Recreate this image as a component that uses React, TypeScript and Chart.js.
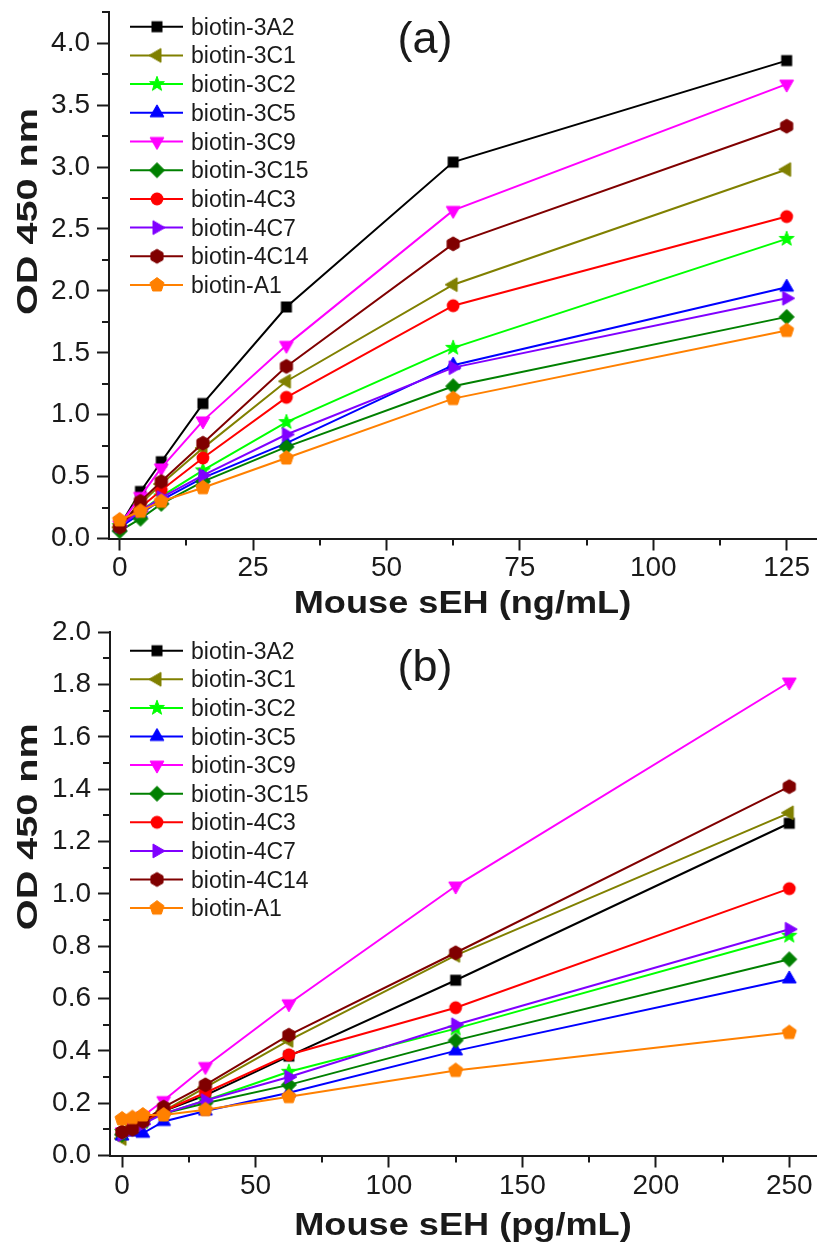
import React, { useEffect, useRef } from 'react';
import { Chart, registerables } from 'chart.js';

Chart.register(...registerables);

// ---------- series ----------
const seriesNames = ['biotin-3A2', 'biotin-3C1', 'biotin-3C2', 'biotin-3C5', 'biotin-3C9', 'biotin-3C15', 'biotin-4C3', 'biotin-4C7', 'biotin-4C14', 'biotin-A1'];
const seriesColors = ['#000000', '#808000', '#00FF00', '#0000FF', '#FF00FF', '#008000', '#FF0000', '#8000FF', '#800000', '#FF8000'];
const seriesMarkers = ['square', 'triangleLeft', 'star', 'triangleUp', 'triangleDown', 'diamond', 'circle', 'triangleRight', 'hexagon', 'pentagon'];

// ---------- panel (a): ng/mL ----------
const concA = [0, 3.9, 7.8, 15.6, 31.25, 62.5, 125];
const a3A2 = [0.10, 0.38, 0.62, 1.09, 1.87, 3.04, 3.86];
const a3C1 = [0.09, 0.28, 0.44, 0.73, 1.27, 2.05, 2.98];
const a3C2 = [0.10, 0.22, 0.34, 0.55, 0.94, 1.54, 2.42];
const a3C5 = [0.09, 0.20, 0.31, 0.49, 0.77, 1.40, 2.03];
const a3C9 = [0.11, 0.34, 0.57, 0.95, 1.56, 2.65, 3.67];
const a3C15 = [0.06, 0.16, 0.28, 0.46, 0.74, 1.23, 1.79];
const a4C3 = [0.10, 0.25, 0.39, 0.65, 1.14, 1.88, 2.60];
const a4C7 = [0.10, 0.22, 0.33, 0.51, 0.84, 1.38, 1.94];
const a4C14 = [0.09, 0.30, 0.46, 0.77, 1.39, 2.38, 3.33];
const aA1 = [0.15, 0.22, 0.30, 0.41, 0.65, 1.13, 1.68];
const xTicksA = [0, 25, 50, 75, 100, 125];
const xMinorA = [12.5, 37.5, 62.5, 87.5, 112.5];
const yTicksA = [0, 0.5, 1.0, 1.5, 2.0, 2.5, 3.0, 3.5, 4.0];
const yMinorA = [0.25, 0.75, 1.25, 1.75, 2.25, 2.75, 3.25, 3.75, 4.25];

// ---------- panel (b): pg/mL ----------
const concB = [0, 3.9, 7.8, 15.6, 31.25, 62.5, 125, 250];
const b3A2 = [0.08, 0.10, 0.13, 0.17, 0.23, 0.38, 0.67, 1.27];
const b3C1 = [0.065, 0.10, 0.13, 0.17, 0.26, 0.44, 0.765, 1.31];
const b3C2 = [0.09, 0.11, 0.13, 0.16, 0.21, 0.32, 0.485, 0.84];
const b3C5 = [0.075, 0.09, 0.085, 0.13, 0.17, 0.24, 0.40, 0.675];
const b3C9 = [0.09, 0.12, 0.15, 0.21, 0.34, 0.58, 1.03, 1.81];
const b3C15 = [0.08, 0.11, 0.13, 0.16, 0.20, 0.27, 0.44, 0.75];
const b4C3 = [0.09, 0.11, 0.13, 0.17, 0.24, 0.385, 0.565, 1.02];
const b4C7 = [0.08, 0.10, 0.12, 0.16, 0.21, 0.30, 0.50, 0.865];
const b4C14 = [0.09, 0.10, 0.13, 0.185, 0.27, 0.46, 0.775, 1.41];
const bA1 = [0.14, 0.145, 0.155, 0.155, 0.175, 0.225, 0.325, 0.47];
const xTicksB = [0, 50, 100, 150, 200, 250];
const xMinorB = [25, 75, 125, 175, 225];
const yTicksB = [0, 0.2, 0.4, 0.6, 0.8, 1.0, 1.2, 1.4, 1.6, 1.8, 2.0];
const yMinorB = [0.1, 0.3, 0.5, 0.7, 0.9, 1.1, 1.3, 1.5, 1.7, 1.9];

const valuesA = [a3A2, a3C1, a3C2, a3C5, a3C9, a3C15, a4C3, a4C7, a4C14, aA1];
const valuesB = [b3A2, b3C1, b3C2, b3C5, b3C9, b3C15, b4C3, b4C7, b4C14, bA1];

const FONT = "'Liberation Sans', Arial, Helvetica, sans-serif";
const INK = '#1a1a1a';

function makeMarker(shape: string, color: string): HTMLCanvasElement {
  const c = document.createElement('canvas');
  c.width = 20;
  c.height = 20;
  const g = c.getContext('2d') as CanvasRenderingContext2D;
  g.fillStyle = color;
  g.strokeStyle = color;
  g.lineWidth = 1;
  const cx = 10, cy = 10;
  const poly = (pts: number[][]) => {
    g.beginPath();
    pts.forEach(([x, y], k) => (k ? g.lineTo(x, y) : g.moveTo(x, y)));
    g.closePath();
    g.fill();
    g.stroke();
  };
  const reg = (n: number, r: number, rot: number) =>
    poly(Array.from({ length: n }, (_, k) => [cx + r * Math.cos(rot + (k * 2 * Math.PI) / n), cy + r * Math.sin(rot + (k * 2 * Math.PI) / n)]));
  switch (shape) {
    case 'square':
      g.fillRect(cx - 5.5, cy - 5.5, 11, 11);
      break;
    case 'circle':
      g.beginPath();
      g.arc(cx, cy, 6.4, 0, Math.PI * 2);
      g.fill();
      break;
    case 'triangleUp':
      reg(3, 8, -Math.PI / 2);
      break;
    case 'triangleDown':
      reg(3, 8, Math.PI / 2);
      break;
    case 'triangleLeft':
      reg(3, 8, Math.PI);
      break;
    case 'triangleRight':
      reg(3, 8, 0);
      break;
    case 'diamond':
      reg(4, 7.5, -Math.PI / 2);
      break;
    case 'hexagon':
      reg(6, 7, -Math.PI / 2);
      break;
    case 'pentagon':
      reg(5, 7.4, -Math.PI / 2);
      break;
    case 'star': {
      const pts: number[][] = [];
      for (let k = 0; k < 10; k++) {
        const r = k % 2 === 0 ? 7.8 : 3.2;
        const a = -Math.PI / 2 + (k * Math.PI) / 5;
        pts.push([cx + r * Math.cos(a), cy + r * Math.sin(a)]);
      }
      poly(pts);
      break;
    }
  }
  return c;
}

type Spec = {
  height: number;
  conc: number[];
  values: number[][];
  xMin: number; xMax: number; yMin: number; yMax: number;
  xTicks: number[]; xMinor: number[]; yTicks: number[]; yMinor: number[];
  top: number; yAxisWidth: number; xAxisHeight: number; xTickPadding: number;
  legendTop: number; legendStep: number;
  label: string; labelX: number; labelBaseline: number;
  xTitle: string; xTitleBaseline: number;
  yTitleCenterY: number;
};

const specA: Spec = {
  height: 620, conc: concA, values: valuesA,
  xMin: -2, xMax: 130.5, yMin: 0, yMax: 4.25,
  xTicks: xTicksA, xMinor: xMinorA, yTicks: yTicksA, yMinor: yMinorA,
  top: 12.3, yAxisWidth: 109, xAxisHeight: 81.5, xTickPadding: 1,
  legendTop: 26.7, legendStep: 28.7,
  label: '(a)', labelX: 425, labelBaseline: 52.7,
  xTitle: 'Mouse sEH (ng/mL)', xTitleBaseline: 613,
  yTitleCenterY: 211.5,
};

const specB: Spec = {
  height: 623, conc: concB, values: valuesB,
  xMin: -4.5, xMax: 260, yMin: 0, yMax: 2.0,
  xTicks: xTicksB, xMinor: xMinorB, yTicks: yTicksB, yMinor: yMinorB,
  top: 12.3, yAxisWidth: 110, xAxisHeight: 87.5, xTickPadding: 2,
  legendTop: 30.7, legendStep: 28.6,
  label: '(b)', labelX: 425, labelBaseline: 61.2,
  xTitle: 'Mouse sEH (pg/mL)', xTitleBaseline: 615,
  yTitleCenterY: 206.7,
};

function decorPlugin(spec: Spec, markers: HTMLCanvasElement[]) {
  return {
    id: 'decor',
    afterDraw(chart: any) {
      const ctx: CanvasRenderingContext2D = chart.ctx;
      const xs = chart.scales.x;
      const ys = chart.scales.y;
      const area = chart.chartArea;
      ctx.save();
      // minor ticks
      ctx.strokeStyle = INK;
      ctx.lineWidth = 2;
      spec.xMinor.forEach((v) => {
        const px = Math.round(xs.getPixelForValue(v));
        ctx.beginPath();
        ctx.moveTo(px, area.bottom);
        ctx.lineTo(px, area.bottom + 7);
        ctx.stroke();
      });
      spec.yMinor.forEach((v) => {
        const py = Math.round(ys.getPixelForValue(v));
        ctx.beginPath();
        ctx.moveTo(area.left, py);
        ctx.lineTo(area.left - 7, py);
        ctx.stroke();
      });
      // legend
      chart.data.datasets.forEach((ds: any, i: number) => {
        const y = spec.legendTop + i * spec.legendStep;
        ctx.strokeStyle = ds.borderColor;
        ctx.lineWidth = 2;
        ctx.beginPath();
        ctx.moveTo(130, y);
        ctx.lineTo(183, y);
        ctx.stroke();
        const m = markers[i];
        ctx.drawImage(m, 157 - m.width / 2, y - m.height / 2);
        ctx.fillStyle = INK;
        ctx.font = `23px ${FONT}`;
        ctx.textAlign = 'left';
        ctx.textBaseline = 'alphabetic';
        ctx.fillText(ds.label, 191, y + 8);
      });
      // panel label
      ctx.fillStyle = INK;
      ctx.font = `45px ${FONT}`;
      ctx.textAlign = 'center';
      ctx.textBaseline = 'alphabetic';
      ctx.fillText(spec.label, spec.labelX, spec.labelBaseline);
      // x title
      ctx.save();
      ctx.translate((area.left + area.right) / 2, spec.xTitleBaseline);
      ctx.scale(1.13, 1);
      ctx.font = `bold 32px ${FONT}`;
      ctx.fillText(spec.xTitle, 0, 0);
      ctx.restore();
      // y title
      ctx.save();
      ctx.translate(37, spec.yTitleCenterY);
      ctx.rotate(-Math.PI / 2);
      ctx.scale(1.32, 1);
      ctx.font = `bold 30px ${FONT}`;
      ctx.textAlign = 'center';
      ctx.fillText('OD 450 nm', 0, 0);
      ctx.restore();
      ctx.restore();
    },
  };
}

function buildConfig(spec: Spec, markers: HTMLCanvasElement[]): any {
  return {
    type: 'line',
    data: {
      datasets: seriesNames.map((name, i) => ({
        label: name,
        data: spec.conc.map((x, j) => ({ x, y: spec.values[i][j] })),
        borderColor: seriesColors[i],
        backgroundColor: seriesColors[i],
        borderWidth: 2,
        pointStyle: markers[i],
        pointRadius: 7,
        pointHoverRadius: 7,
        tension: 0,
        fill: false,
        clip: false,
        order: seriesNames.length - i,
      })),
    },
    options: {
      animation: false,
      responsive: false,
      maintainAspectRatio: false,
      devicePixelRatio: 1,
      events: [],
      layout: { padding: { top: spec.top, left: 0, right: 0, bottom: 0 } },
      plugins: { legend: { display: false }, tooltip: { enabled: false }, title: { display: false } },
      scales: {
        x: {
          type: 'linear',
          min: spec.xMin,
          max: spec.xMax,
          afterBuildTicks: (s: any) => {
            s.ticks = spec.xTicks.map((v) => ({ value: v }));
          },
          afterFit: (s: any) => {
            s.height = spec.xAxisHeight;
            s.paddingLeft = 0;
            s.paddingRight = 0;
          },
          grid: { drawOnChartArea: false, drawTicks: true, tickLength: 12, tickWidth: 2, tickColor: INK },
          border: { display: true, color: INK, width: 2 },
          ticks: {
            font: { family: FONT, size: 28 },
            color: INK,
            padding: spec.xTickPadding,
            maxRotation: 0,
            autoSkip: false,
            callback: (v: any) => String(v),
          },
        },
        y: {
          type: 'linear',
          min: spec.yMin,
          max: spec.yMax,
          afterBuildTicks: (s: any) => {
            s.ticks = spec.yTicks.map((v) => ({ value: v }));
          },
          afterFit: (s: any) => {
            s.width = spec.yAxisWidth;
            s.paddingTop = 0;
            s.paddingBottom = 0;
          },
          grid: { drawOnChartArea: false, drawTicks: true, tickLength: 12, tickWidth: 2, tickColor: INK },
          border: { display: true, color: INK, width: 2 },
          ticks: {
            font: { family: FONT, size: 28 },
            color: INK,
            padding: 7,
            autoSkip: false,
            callback: (v: any) => Number(v).toFixed(1),
          },
        },
      },
    },
    plugins: [decorPlugin(spec, markers)],
  };
}

function Panel({ spec }: { spec: Spec }) {
  const ref = useRef<HTMLCanvasElement>(null);
  useEffect(() => {
    const markers = seriesMarkers.map((m, i) => makeMarker(m, seriesColors[i]));
    const chart = new Chart(ref.current as HTMLCanvasElement, buildConfig(spec, markers));
    return () => chart.destroy();
  }, [spec]);
  return (
    <canvas
      ref={ref}
      width={825}
      height={spec.height}
      style={{ display: 'block', width: 825, height: spec.height }}
    />
  );
}

export default function App() {
  return (
    <div style={{ position: 'absolute', left: 0, top: 0, width: 825, height: 1243, background: '#ffffff' }}>
      <Panel spec={specA} />
      <Panel spec={specB} />
    </div>
  );
}
